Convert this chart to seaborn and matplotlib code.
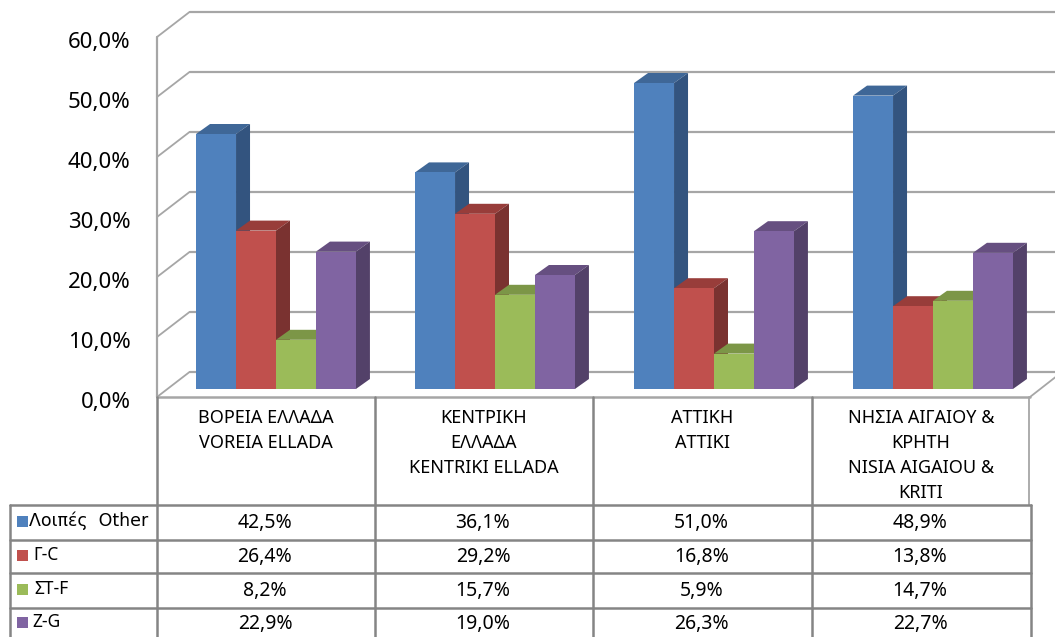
import matplotlib
matplotlib.use("Agg")
import matplotlib.pyplot as plt
import pandas as pd
import seaborn as sns
from matplotlib.lines import Line2D
from matplotlib.patches import Polygon, Rectangle
from matplotlib.transforms import Affine2D

regions = ["ΒΟΡΕΙΑ ΕΛΛΑΔΑ\nVOREIA ELLADA", "ΚΕΝΤΡΙΚΗ\nΕΛΛΑΔΑ\nKENTRIKI ELLADA",
           "ΑΤΤΙΚΗ\nATTIKI", "ΝΗΣΙΑ ΑΙΓΑΙΟΥ &\nΚΡΗΤΗ\nNISIA AIGAIOU &\nKRITI"]
series_names = ["Λοιπές  Other", "Γ-C", "ΣΤ-F", "Z-G"]
other = [42.5, 36.1, 51.0, 48.9]
gamma_c = [26.4, 29.2, 16.8, 13.8]
st_f = [8.2, 15.7, 5.9, 14.7]
z_g = [22.9, 19.0, 26.3, 22.7]
front_colors = ["#4F81BD", "#C0504D", "#9BBB59", "#8064A2"]
top_colors = ["#3F6797", "#983D3A", "#7C9647", "#664F80"]
side_colors = ["#33547F", "#7A3230", "#647A3A", "#534169"]
y_ticks = [0, 10, 20, 30, 40, 50, 60]

sns.set_theme(style="white")
plt.rcParams["font.family"] = ["Noto Sans", "DejaVu Sans"]

rows = []
for name, vals in zip(series_names, [other, gamma_c, st_f, z_g]):
    for reg, v in zip(regions, vals):
        rows.append({"region": reg, "series": name, "value": v})
df = pd.DataFrame(rows)

W, H = 1055, 637
fig = plt.figure(figsize=(W / 100, H / 100), dpi=100, facecolor="white")
ax = fig.add_axes([166.5 / W, (H - 389) / H, 876 / W, 360 / H])
ax.patch.set_alpha(0)

sns.barplot(data=df, x="region", y="value", hue="series", hue_order=series_names,
            palette=front_colors, width=0.73, gap=0, saturation=1, legend=False,
            linewidth=0, ax=ax, zorder=5)
ax.set_xlim(-0.5, 3.5)
ax.set_ylim(0, 60)
ax.set_xlabel("")
ax.set_ylabel("")
ax.set_xticks([])
sns.despine(ax=ax, left=True, bottom=True, top=True, right=True)

# one pixel in data units
px_x = 1 / 219
px_y = 10 / 60

# 3d sides of the bars
depth_x = 14 * px_x
depth_y = 10 * px_y
z = 5
for i, cont in enumerate(ax.containers):
    for bar in cont:
        x0 = bar.get_x()
        x1 = x0 + bar.get_width()
        h = bar.get_height()
        z += 1
        bar.set_zorder(z + 0.5)
        ax.add_patch(Polygon([(x0, h), (x0 + depth_x, h + depth_y), (x1 + depth_x, h + depth_y), (x1, h)],
                             facecolor=top_colors[i], edgecolor="none", zorder=z))
        ax.add_patch(Polygon([(x1, 0), (x1 + depth_x, depth_y), (x1 + depth_x, h + depth_y), (x1, h)],
                             facecolor=side_colors[i], edgecolor="none", zorder=z))

# walls: grid on the back, diagonals to the front axis
grid_col = "#A6A6A6"
front_x = -0.5 - 9.5 * px_x
front_y = -8 * px_y
back_x = -0.5 + 23 * px_x
back_y = 17 * px_y
for t in y_ticks:
    ax.plot([back_x, 3.6], [t + back_y, t + back_y], color=grid_col, lw=1.6, clip_on=False, zorder=1)
    ax.plot([front_x, back_x], [t + front_y, t + back_y], color=grid_col, lw=1.3, clip_on=False, zorder=1)
ax.plot([front_x, front_x], [front_y, 60 + front_y], color=grid_col, lw=1.6, clip_on=False, zorder=1)
ax.plot([front_x, 3.5 - 12.5 * px_x], [front_y, front_y], color=grid_col, lw=1.8, clip_on=False, zorder=1)
ax.plot([3.5 - 12.5 * px_x, 3.5 + 19.5 * px_x], [front_y, back_y], color=grid_col, lw=1.3, clip_on=False, zorder=1)

ax.set_yticks(y_ticks)
ax.set_yticklabels([f"{t},0%" for t in y_ticks], fontsize=16, color="black")
ax.tick_params(axis="y", length=0, pad=26)
for lab in ax.get_yticklabels():
    lab.set_transform(lab.get_transform() + Affine2D().translate(0, -11))

# table under the chart, in pixel coordinates
px = Affine2D().scale(1, -1).translate(0, H)
col_edges = [157, 375, 593, 812, 1030]
row_edges = [505, 540, 573, 608]
line_col = "#858585"
for x in col_edges[:-1]:
    fig.add_artist(Line2D([x, x], [397, H], color=line_col, lw=1.8, transform=px))
fig.add_artist(Line2D([1029, 1029], [397, 505], color=grid_col, lw=1.3, transform=px))
fig.add_artist(Line2D([1031, 1031], [505, H], color=line_col, lw=1.8, transform=px))
fig.add_artist(Line2D([10, 10], [505, H], color=line_col, lw=1.8, transform=px))
for y in row_edges:
    fig.add_artist(Line2D([10, 1031], [y, y], color=line_col, lw=1.8, transform=px))

row_y = [522, 556, 590, 623]
label_x = [29, 33, 34, 32]
for j, (name, vals) in enumerate(zip(series_names, [other, gamma_c, st_f, z_g])):
    fig.add_artist(Rectangle((17, row_y[j] - 6), 11, 11, facecolor=front_colors[j], edgecolor="none", transform=px))
    fam = "DejaVu Sans" if j == 0 else "Noto Sans"
    fig.text(label_x[j], row_y[j] - 1, name, transform=px, fontsize=12.5, family=fam, ha="left", va="center", color="black")
    for k, v in enumerate(vals):
        cx = (col_edges[k] + col_edges[k + 1]) / 2
        fig.text(cx - 1, row_y[j] + 1, f"{v:.1f}%".replace(".", ","), transform=px, fontsize=14,
                 ha="center", va="center", color="black")

for k, reg in enumerate(regions):
    cx = (col_edges[k] + col_edges[k + 1]) / 2
    for n, line in enumerate(reg.split("\n")):
        fig.text(cx, 418 + n * 25, line, transform=px, fontsize=13, ha="center", va="center", color="black")

fig.savefig("out.png", dpi=100, facecolor="white")
